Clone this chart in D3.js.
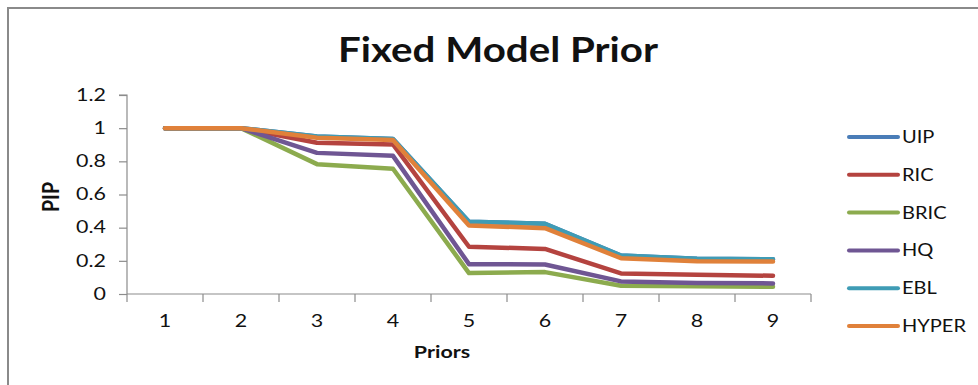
<!DOCTYPE html>
<html>
<head>
<meta charset="utf-8">
<script src="https://cdn.jsdelivr.net/npm/d3@7"></script>
<style>
  html, body { margin: 0; padding: 0; background: #fff; }
  svg { display: block; }
  text { font-family: Lato, "Open Sans", sans-serif; fill: #111; }
</style>
</head>
<body>
<svg id="chart" width="978" height="385"></svg>
<script>
// Posterior inclusion probability under a fixed model prior, per prior choice
const priors = [1, 2, 3, 4, 5, 6, 7, 8, 9];
const seriesNames = ["UIP", "RIC", "BRIC", "HQ", "EBL", "HYPER"];
const uip   = [1, 1, 0.95, 0.935, 0.436, 0.423, 0.232, 0.212, 0.209];
const ric   = [1, 1, 0.912, 0.902, 0.285, 0.272, 0.124, 0.116, 0.110];
const bric  = [1, 1, 0.783, 0.755, 0.126, 0.132, 0.050, 0.046, 0.044];
const hq    = [1, 1, 0.851, 0.833, 0.180, 0.178, 0.076, 0.066, 0.064];
const ebl   = [1, 1, 0.95, 0.935, 0.436, 0.423, 0.232, 0.212, 0.209];
const hyper = [1, 1, 0.942, 0.928, 0.413, 0.397, 0.216, 0.198, 0.196];
const yTicks = [0, 0.2, 0.4, 0.6, 0.8, 1, 1.2];
const colors = ["#4A7DB8", "#B4433F", "#8CAB4E", "#6F5693", "#3F9CB5", "#E0813A"];

const series = [uip, ric, bric, hq, ebl, hyper].map((vals, i) => ({
  name: seriesNames[i], color: colors[i], values: vals
}));

// all text is drawn slightly wide
const WIDE = 1.3;

const svg = d3.select("#chart");

// outer chart frame
svg.append("path")
  .attr("d", "M8,385 V8 H978")
  .attr("fill", "none")
  .attr("stroke", "#8a8a8a")
  .attr("stroke-width", 2);

const plot = { left: 127, right: 811, top: 95, bottom: 294 };

const x = d3.scaleBand().domain(priors).range([plot.left, plot.right]);
const y = d3.scaleLinear().domain([0, 1.2]).range([plot.bottom, plot.top]);

function wideText(parent, tx, ty, k, size, weight, anchor, str) {
  return parent.append("g").attr("transform", `translate(${tx},${ty})`)
    .append("text")
    .attr("transform", `scale(${k},1)`)
    .attr("text-anchor", anchor)
    .attr("font-size", size)
    .attr("font-weight", weight)
    .text(str);
}

// title
svg.append("text")
  .attr("x", 498).attr("y", 62)
  .attr("text-anchor", "middle")
  .attr("font-size", 34).attr("font-weight", "bold")
  .attr("textLength", 320).attr("lengthAdjust", "spacingAndGlyphs")
  .text("Fixed Model Prior");

// y axis
const yAxis = svg.append("g")
  .attr("transform", `translate(${plot.left},0)`)
  .call(d3.axisLeft(y).tickValues(yTicks).tickSize(8).tickPadding(13)
    .tickFormat(d => d3.format("")(+d.toFixed(1))));
yAxis.selectAll("line, path").attr("stroke", "#8c8c8c").attr("stroke-width", 1.2);
yAxis.select(".domain").attr("d", `M-8,${plot.top}H0V${plot.bottom}`);
yAxis.selectAll("text")
  .attr("font-size", 16.5).attr("fill", "#111")
  .attr("x", -21 / WIDE)
  .attr("transform", `scale(${WIDE},1)`);

// x axis
const xAxis = svg.append("g")
  .attr("transform", `translate(0,${plot.bottom})`)
  .call(d3.axisBottom(x).tickSize(0).tickPadding(21));
xAxis.select(".domain").attr("stroke", "#8c8c8c").attr("stroke-width", 1.2)
  .attr("d", `M${plot.left},0H${plot.right}`);
xAxis.selectAll("text")
  .attr("font-size", 16.5).attr("fill", "#111")
  .attr("transform", `scale(${WIDE},1)`);
// category boundary ticks
const bounds = priors.map(p => x(p)).concat([x(priors[priors.length - 1]) + x.bandwidth()]);
xAxis.selectAll("line.bound").data(bounds).join("line")
  .attr("class", "bound")
  .attr("x1", d => d).attr("x2", d => d)
  .attr("y1", 0).attr("y2", 8)
  .attr("stroke", "#8c8c8c").attr("stroke-width", 1.2);

// axis titles
svg.append("g").attr("transform", "translate(59,197) rotate(-90)")
  .append("text")
  .attr("text-anchor", "middle")
  .attr("font-size", 17).attr("font-weight", "bold")
  .attr("transform", "scale(1.15,1.3)")
  .text("PIP");
wideText(svg, 442, 358, WIDE, 16.5, "bold", "middle", "Priors");

// series lines
const line = d3.line()
  .x((d, i) => x(priors[i]) + x.bandwidth() / 2)
  .y(d => y(d));

svg.append("g").selectAll("path").data(series).join("path")
  .attr("d", d => line(d.values))
  .attr("fill", "none")
  .attr("stroke", d => d.color)
  .attr("stroke-width", 4.5)
  .attr("stroke-linejoin", "round")
  .attr("stroke-linecap", "round");

// legend
const legend = svg.append("g").selectAll("g").data(series).join("g")
  .attr("transform", (d, i) => `translate(849,${137 + i * 37.8})`);
legend.append("line")
  .attr("x1", 0).attr("x2", 49)
  .attr("stroke", d => d.color).attr("stroke-width", 4)
  .attr("stroke-linecap", "round");
legend.append("g").attr("transform", "translate(53,6)")
  .append("text")
  .attr("transform", "scale(1.18,1)")
  .attr("font-size", 17)
  .text(d => d.name);
</script>
</body>
</html>
